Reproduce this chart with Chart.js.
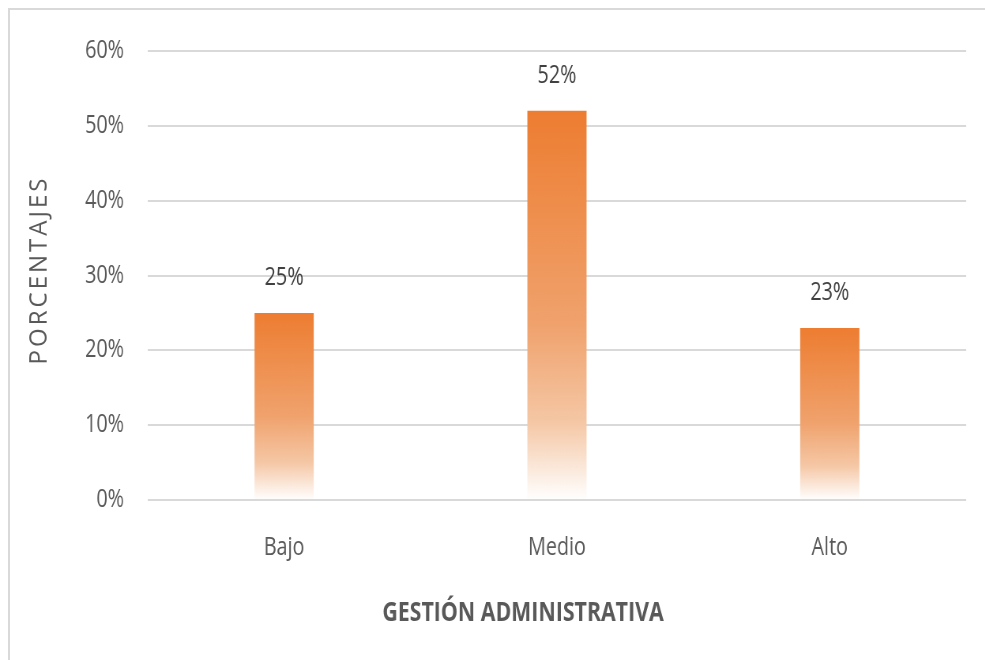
<!DOCTYPE html>
<html>
<head>
<meta charset="utf-8">
<script src="https://cdn.jsdelivr.net/npm/chart.js@4.4.1/dist/chart.umd.min.js"></script>
<style>
    html, body { margin: 0; padding: 0; background: #fff; overflow: hidden; }
    #frame {
        position: absolute; left: 8px; top: 8px;
        width: 1000px; height: 700px;
        border-left: 2px solid #d9d9d9; border-top: 2px solid #d9d9d9;
    }
    /* the reference text is tall and narrow: draw wide, squeeze horizontally */
    #wrap {
        position: absolute; left: 0; top: 0;
        width: 1247px; height: 660px;
        transform: scaleX(0.79); transform-origin: 0 0;
    }
</style>
</head>
<body>
<div id="frame"></div>
<div id="wrap"><canvas id="chart"></canvas></div>
<script>
const categories = ['Bajo', 'Medio', 'Alto'];
const percentages = [25, 52, 23];
const tickValues = [0, 10, 20, 30, 40, 50, 60];
const yTitle = 'PORCENTAJES';
const xTitle = 'GESTIÓN ADMINISTRATIVA';

const SQUEEZE = 0.79;
const FONT = '"Open Sans", sans-serif';

function barGradient(context) {
    const chart = context.chart;
    if (!chart.chartArea) return '#ED7D31';
    const y = chart.scales.y;
    const top = y.getPixelForValue(context.raw);
    const bottom = y.getPixelForValue(0);
    const g = chart.ctx.createLinearGradient(0, top, 0, bottom);
    g.addColorStop(0, '#ED7D31');
    g.addColorStop(0.55, '#F0A26D');
    g.addColorStop(0.8, '#F5C7A5');
    g.addColorStop(1, '#FFFFFF');
    return g;
}

// value labels above bars + both axis titles
const extrasPlugin = {
    id: 'extras',
    afterDatasetsDraw(chart) {
        const ctx = chart.ctx;
        const meta = chart.getDatasetMeta(0);
        ctx.save();
        ctx.font = '25px ' + FONT;
        ctx.fillStyle = '#404040';
        ctx.textAlign = 'center';
        ctx.textBaseline = 'middle';
        meta.data.forEach((bar, i) => {
            ctx.fillText(percentages[i] + '%', bar.x, bar.y - 35);
        });
        ctx.restore();

        // x title sits centred on the whole chart, not on the plot area
        ctx.save();
        ctx.font = 'bold 27px ' + FONT;
        ctx.fillStyle = '#595959';
        ctx.textAlign = 'center';
        ctx.textBaseline = 'middle';
        ctx.fillText(xTitle, 523 / SQUEEZE, 613);
        ctx.restore();

        // y title is not squeezed in the reference, so undo the squeeze here
        ctx.save();
        ctx.translate(40 / SQUEEZE, 270);
        ctx.scale(1 / SQUEEZE, 1);
        ctx.rotate(-Math.PI / 2);
        ctx.font = '24px ' + FONT;
        ctx.letterSpacing = '3px';
        ctx.fillStyle = '#595959';
        ctx.textAlign = 'center';
        ctx.textBaseline = 'middle';
        ctx.fillText(yTitle, 0, 0);
        ctx.restore();
    }
};

new Chart(document.getElementById('chart'), {
    type: 'bar',
    data: {
        labels: categories,
        datasets: [{
            data: percentages,
            backgroundColor: barGradient,
            borderWidth: 0,
            barPercentage: 0.217,
            categoryPercentage: 1
        }]
    },
    options: {
        responsive: true,
        maintainAspectRatio: false,
        animation: false,
        layout: { padding: { top: 51, right: 24, left: 0, bottom: 0 } },
        plugins: {
            legend: { display: false },
            tooltip: { enabled: false }
        },
        scales: {
            y: {
                min: 0,
                max: 60,
                afterBuildTicks(scale) {
                    scale.ticks = tickValues.map(v => ({ value: v }));
                },
                afterFit(scale) { scale.width = 187; },
                border: { display: false },
                grid: { color: '#d9d9d9', lineWidth: 2, drawTicks: false },
                ticks: {
                    padding: 30,
                    color: '#595959',
                    font: { family: FONT, size: 25 },
                    callback: v => v + '%'
                }
            },
            x: {
                afterFit(scale) { scale.height = 160; },
                border: { display: false },
                grid: { display: false },
                ticks: {
                    padding: 25,
                    color: '#595959',
                    font: { family: FONT, size: 25 }
                }
            }
        }
    },
    plugins: [extrasPlugin]
});
</script>
</body>
</html>
